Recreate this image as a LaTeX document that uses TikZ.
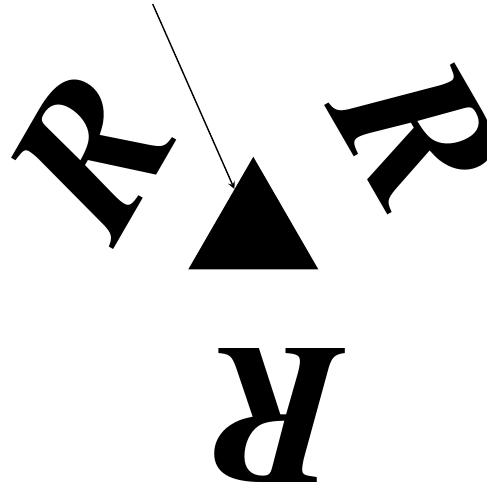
\documentclass[tikz,border=0pt]{standalone}
\usepackage[T1]{fontenc}
\usepackage{tikz}
\usetikzlibrary{shapes.geometric, arrows, positioning, calc}
\newcommand{\timesbi}{\fontencoding{T1}\fontfamily{ptm}\fontseries{b}\fontshape{it}\fontsize{114}{114}\selectfont}
\tikzstyle{letter} = [inner sep=0pt, font=\timesbi]
\tikzstyle{tri} = [regular polygon, regular polygon sides=3, minimum size=3cm, inner sep=0pt, fill=black]
\tikzstyle{arrow} = [thick,->,>=stealth]

\begin{document}
\begin{tikzpicture}
    \useasboundingbox (-5.066,-5.004) rectangle (4.674,4.636);
    \node (mid) [tri] at (0,0) {};
    \node (rleft) [letter, rotate=60] at (-3.25,1.60) {R};
    \node (rright) [letter, rotate=-60] at (3.35,1.96) {R};
    \node (rbottom) [letter, rotate=180] at (0.38,-3.72) {R};
    \coordinate (src) at (-2.012,4.556);

    \draw [arrow] (src) -- (mid);
\end{tikzpicture}
\end{document}
